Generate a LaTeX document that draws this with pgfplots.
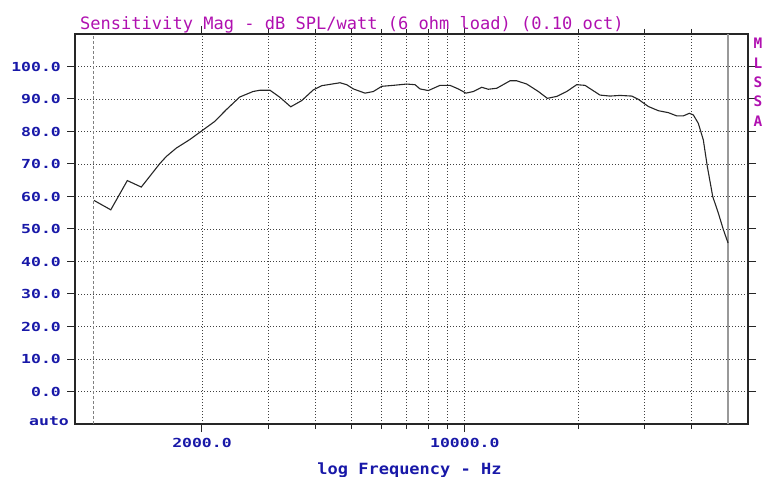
\documentclass[border=0pt]{standalone}
\usepackage{fontspec}
\usepackage{pgfplots}
\pgfplotsset{compat=1.18}
\newfontfamily\titlefont{DejaVu Sans Mono}
\newfontfamily\tickfont{DejaVu Sans Mono}[FakeStretch=1.32]
\newfontfamily\labfont{DejaVu Sans Mono}[FakeStretch=1.1]
\definecolor{ttl}{RGB}{176,16,176}
\definecolor{tck}{RGB}{24,24,168}
\begin{document}
\begin{tikzpicture}
\begin{axis}[
  at={(0,0)}, anchor=south west,
  scale only axis, width=673bp, height=390bp,
  xmode=log, xmin=919, xmax=56640, ymin=-10, ymax=110,
  axis line style={line width=1.2bp, black!85},
  xtick={2000,10000}, xticklabels={2000.0,10000.0},
  minor xtick={3000,4000,5000,6000,7000,8000,9000,20000,30000,40000},
  ytick={0,10,20,30,40,50,60,70,80,90,100},
  yticklabels={0.0,10.0,20.0,30.0,40.0,50.0,60.0,70.0,80.0,90.0,100.0},
  extra y ticks={-9}, extra y tick labels={auto},
  extra y tick style={major tick length=0pt, ymajorgrids=false},
  tick align=outside, major tick length=8bp, minor tick length=5bp,
  tick style={black!85, line width=1bp},
  xmajorgrids, xminorgrids, ymajorgrids,
  major grid style={dash pattern=on 1bp off 2bp, black!75, line width=0.8bp},
  minor grid style={dash pattern=on 1bp off 2bp, black!75, line width=0.8bp},
  yticklabel style={anchor=east, inner sep=0pt, xshift=-6bp, font=\tickfont\bfseries\fontsize{12.5}{12.5}\selectfont, text=tck},
  xticklabel style={anchor=base, inner sep=0pt, yshift=-15bp, font=\tickfont\bfseries\fontsize{12.5}{12.5}\selectfont, text=tck},
  xlabel={log Frequency - Hz},
  xlabel style={at={(axis description cs:0.497,0)}, anchor=base, inner sep=0pt, yshift=-50bp, font=\labfont\bfseries\fontsize{15.5}{15.5}\selectfont, text=tck},
]
\draw[gray, line width=1bp, dash pattern=on 3bp off 2bp] (axis cs:1032,-10) -- (axis cs:1032,110);
\draw[gray!80, line width=1.3bp] (axis cs:50120,-10) -- (axis cs:50120,110);
\addplot[black!85, line width=1.1bp] coordinates {
(1032,58.8) (1144,55.9) (1266,64.9) (1379,62.9) (1544,70.1) (1607,72.3)
(1709,74.9) (1855,77.5) (2003,80.3) (2162,83.1) (2320,86.7) (2519,90.6)
(2733,92.3) (2853,92.7) (3033,92.7) (3224,90.5) (3444,87.6) (3683,89.5)
(3954,92.8) (4164,94.1) (4380,94.5) (4656,95.0) (4851,94.4) (5052,93.1)
(5427,91.8) (5710,92.3) (6012,93.9) (6453,94.2) (7006,94.6) (7372,94.4)
(7601,93.1) (7998,92.6) (8591,94.2) (9131,94.2) (9607,93.1) (10071,91.8)
(10532,92.3) (11090,93.6) (11547,93.0) (12157,93.3) (13190,95.6) (13741,95.6)
(14611,94.6) (15691,92.3) (16577,90.2) (17556,90.8) (18661,92.3) (19839,94.4)
(20874,94.2) (22886,91.2) (24330,90.9) (25860,91.1) (27788,90.9) (28936,89.9)
(30764,87.7) (32708,86.4) (34776,85.8) (36606,84.8) (38120,84.8) (39540,85.6)
(40520,85.1) (41778,82.5) (43078,77.4) (44150,69.2) (45630,60.0) (47220,54.9)
(48700,49.8) (50120,45.7)
};
\end{axis}
\node[anchor=base west, inner sep=0pt, text=ttl, font=\titlefont\fontsize{17.1}{17.1}\selectfont] at (5bp,394.7bp) {Sensitivity Mag - dB SPL/watt (6 ohm load) (0.10 oct)};
\foreach \c/\yy in {M/375,L/355.7,S/336.5,S/317,A/297.5}{
  \node[anchor=base, inner sep=0pt, text=ttl, font=\titlefont\bfseries\fontsize{14.5}{14.5}\selectfont] at (683bp,\yy bp) {\c};
}
\pgfresetboundingbox
\path (-75bp,-53bp) rectangle (690bp,424bp);
\end{tikzpicture}
\end{document}
